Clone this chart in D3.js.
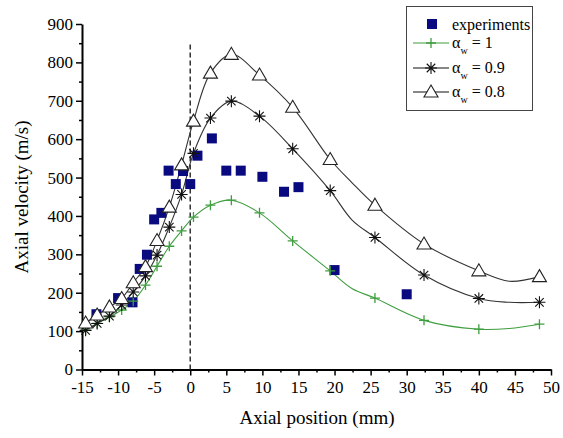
<!DOCTYPE html>
<html>
<head>
<meta charset="utf-8">
<script src="https://cdn.jsdelivr.net/npm/d3@7"></script>
<style>
  body { margin: 0; background: #fff; }
  svg text { font-family: "Liberation Serif", "Times New Roman", serif; fill: #000; }
</style>
</head>
<body>
<div id="chart"></div>
<script>
// simulation grid (lines) and whether a marker is drawn at that point
var simX    = [-14.5, -12.9, -11.2, -9.5, -7.9, -6.2, -4.6, -2.9, -1.2, 0.45, 2.8, 5.7, 9.6, 14.2, 19.4, 22.4, 25.6, 32.4, 40, 44.2, 48.4];
var marked  = [1, 1, 1, 1, 1, 1, 1, 1, 1, 1, 1, 1, 1, 1, 1, 0, 1, 1, 1, 0, 1];
var alpha1  = [103, 120, 137, 155, 178, 220, 269, 321, 361, 397, 428, 441, 408, 335, 257, 211, 186, 128, 105, 107, 118];
var alpha09 = [102, 120, 139, 168, 202, 244, 298, 371, 456, 563, 655, 699, 660, 575, 466, 390, 344, 246, 185, 175, 175];
var alpha08 = [121, 142, 163, 185, 226, 268, 336, 423, 533, 647, 772, 821, 767, 683, 547, 487, 428, 327, 257, 230, 242];

// experiments
var expX = [-13, -10, -8, -7, -6, -5, -4, -3, -2, -1, 0, 1, 3, 5, 7, 10, 13, 15, 20, 30];
var expY = [144, 186, 175, 262, 299, 391, 408, 518, 483, 517, 483, 557, 602, 518, 518, 502, 463, 475, 259, 196];

var xTicks = [-15, -10, -5, 0, 5, 10, 15, 20, 25, 30, 35, 40, 45, 50];
var yTicks = [0, 100, 200, 300, 400, 500, 600, 700, 800, 900];

var W = 563, H = 438;
var green = "#3f9e3f", navy = "#0a0a80";

var svg = d3.select("#chart").append("svg")
    .attr("width", W)
    .attr("height", H);

var x = d3.scaleLinear().domain([-15, 50]).range([82, 551]);
var y = d3.scaleLinear().domain([0, 900]).range([369.5, 24]);

// minor ticks
svg.append("g")
    .attr("transform", "translate(0,369.5)")
    .call(d3.axisBottom(x).tickValues(d3.range(-12.5, 50, 5)).tickSize(3).tickFormat(""))
    .call(function(g) { g.select(".domain").remove(); })
    .selectAll("line").attr("stroke-width", 1.5);
svg.append("g")
    .attr("transform", "translate(82,0)")
    .call(d3.axisLeft(y).tickValues(d3.range(50, 900, 100)).tickSize(3).tickFormat(""))
    .call(function(g) { g.select(".domain").remove(); })
    .selectAll("line").attr("stroke-width", 1.5);

// major axes (plain hyphen for negatives, as in the original)
var xAxis = svg.append("g")
    .attr("transform", "translate(0,369.5)")
    .call(d3.axisBottom(x).tickValues(xTicks).tickFormat(function(d) { return String(d); })
        .tickSize(6).tickSizeOuter(0).tickPadding(5));
var yAxis = svg.append("g")
    .attr("transform", "translate(82,0)")
    .call(d3.axisLeft(y).tickValues(yTicks).tickFormat(function(d) { return String(d); })
        .tickSize(6).tickSizeOuter(0).tickPadding(3));
[xAxis, yAxis].forEach(function(a) {
    a.select(".domain").attr("stroke-width", 2);
    a.selectAll("line").attr("stroke-width", 1.5);
    a.selectAll("text").style("font-size", "17px").attr("fill", "#000");
});

// dashed zero line
svg.append("line")
    .attr("x1", x(0)).attr("x2", x(0))
    .attr("y1", y(0)).attr("y2", y(852))
    .attr("stroke", "#333")
    .attr("stroke-width", 1.5)
    .attr("stroke-dasharray", "5,3");

// axis titles
svg.append("text")
    .attr("x", 317).attr("y", 424)
    .attr("text-anchor", "middle")
    .style("font-size", "19px")
    .text("Axial position (mm)");
svg.append("text")
    .attr("transform", "translate(28,197) rotate(-90)")
    .attr("text-anchor", "middle")
    .style("font-size", "19px")
    .text("Axial velocity (m/s)");

var line = d3.line()
    .x(function(d) { return x(d[0]); })
    .y(function(d) { return y(d[1]); })
    .curve(d3.curveCatmullRom.alpha(0.5));

function pts(vals) { return simX.map(function(v, i) { return [v, vals[i], marked[i]]; }); }

// marker painters
function plus(g, cx, cy) {
    g.append("path")
        .attr("d", "M" + (cx - 5) + "," + cy + "h10M" + cx + "," + (cy - 5) + "v10")
        .attr("stroke", green).attr("stroke-width", 1.3).attr("fill", "none");
}
function star(g, cx, cy) {
    var r = 6, d = r * 0.707;
    g.append("path")
        .attr("d", "M" + (cx - r) + "," + cy + "h" + 2 * r +
            "M" + cx + "," + (cy - r) + "v" + 2 * r +
            "M" + (cx - d) + "," + (cy - d) + "l" + 2 * d + "," + 2 * d +
            "M" + (cx - d) + "," + (cy + d) + "l" + 2 * d + "," + (-2 * d))
        .attr("stroke", "#111").attr("stroke-width", 1.1).attr("fill", "none");
}
function tri(g, cx, cy) {
    g.append("path")
        .attr("d", "M" + cx + "," + (cy - 7) + "L" + (cx + 7) + "," + (cy + 5) + "L" + (cx - 7) + "," + (cy + 5) + "Z")
        .attr("stroke", "#222").attr("stroke-width", 1.1).attr("fill", "#fff");
}
function square(g, cx, cy) {
    g.append("rect")
        .attr("x", cx - 5).attr("y", cy - 5)
        .attr("width", 10).attr("height", 10)
        .attr("fill", navy);
}

var series = [
    { vals: alpha1, color: green, mark: plus },
    { vals: alpha09, color: "#333", mark: star },
    { vals: alpha08, color: "#333", mark: tri }
];

series.forEach(function(s) {
    svg.append("path")
        .datum(pts(s.vals))
        .attr("d", line)
        .attr("fill", "none")
        .attr("stroke", s.color)
        .attr("stroke-width", 1.1);
});

// experiments under the simulation markers
var expG = svg.append("g");
expX.forEach(function(v, i) { square(expG, x(v), y(expY[i])); });

series.forEach(function(s) {
    var g = svg.append("g");
    pts(s.vals).forEach(function(p) {
        if (p[2]) s.mark(g, x(p[0]), y(p[1]));
    });
});

// legend
var lg = svg.append("g");
lg.append("rect")
    .attr("x", 406.5).attr("y", 6.5)
    .attr("width", 126).attr("height", 104)
    .attr("fill", "#fff").attr("stroke", "#444").attr("stroke-width", 1);

square(lg, 432, 24);
lg.append("text").attr("x", 452).attr("y", 29.5).style("font-size", "16px").text("experiments");

var legRows = [
    { y: 43, color: green, mark: plus, label: "1" },
    { y: 68, color: "#111", mark: star, label: "0.9" },
    { y: 92, color: "#111", mark: tri, label: "0.8" }
];
legRows.forEach(function(r) {
    lg.append("line")
        .attr("x1", 413).attr("x2", 449)
        .attr("y1", r.y).attr("y2", r.y)
        .attr("stroke", r.color).attr("stroke-width", 1.1);
    r.mark(lg, 431, r.y);
    var t = lg.append("text").attr("x", 452).attr("y", r.y + 5).style("font-size", "16px");
    t.append("tspan").text("\u03b1");
    t.append("tspan").attr("dy", 6).style("font-size", "10px").text("w");
    t.append("tspan").attr("dy", -6).text(" = " + r.label);
});
</script>
</body>
</html>
